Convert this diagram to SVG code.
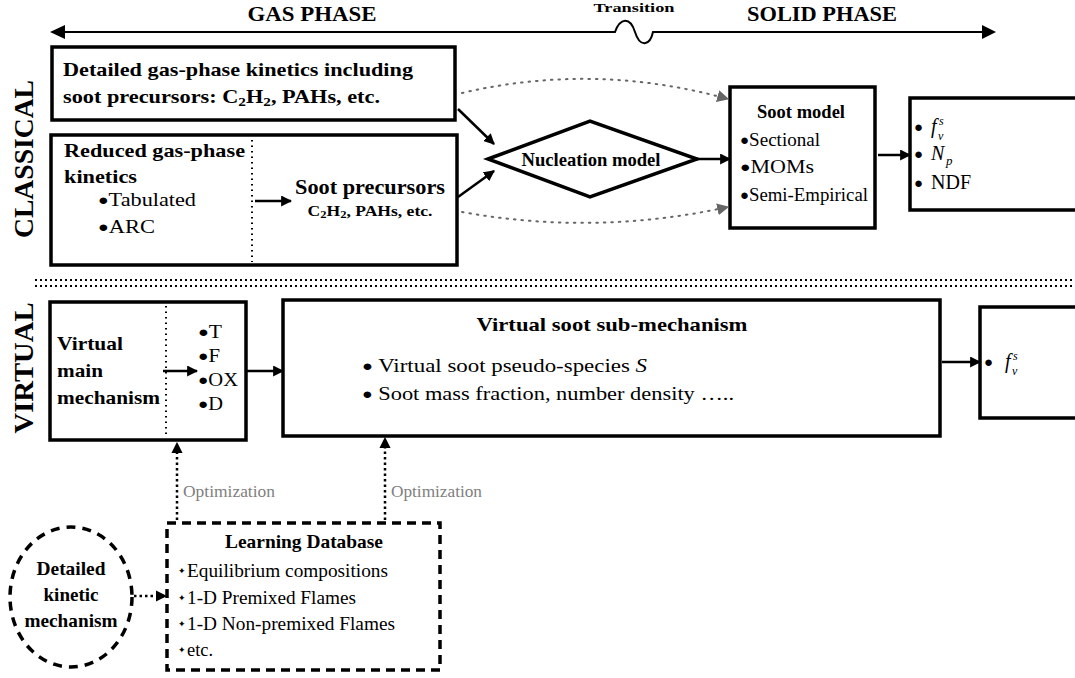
<svg xmlns="http://www.w3.org/2000/svg" width="1075" height="678" viewBox="0 0 1075 678">
<defs>
<marker id="ah" viewBox="0 0 10 10" refX="9" refY="5" markerWidth="4.4" markerHeight="4.4" orient="auto" markerUnits="strokeWidth"><path d="M0,0 L10,5 L0,10 z" fill="#000"/></marker>
<marker id="ahg" viewBox="0 0 10 10" refX="9" refY="5" markerWidth="6" markerHeight="6" orient="auto" markerUnits="strokeWidth"><path d="M0,0 L10,5 L0,10 z" fill="#666"/></marker>
<marker id="ahd" viewBox="0 0 10 10" refX="9" refY="5" markerWidth="4.5" markerHeight="4.5" orient="auto" markerUnits="strokeWidth"><path d="M0,0 L10,5 L0,10 z" fill="#000"/></marker>
</defs>
<style>
text{font-family:"Liberation Serif","Times New Roman",serif;fill:#000}
.b{font-weight:bold}
.bl{font-size:15px}
.box{fill:#fff;stroke:#000;stroke-width:3.5}
.dash{fill:#fff;stroke:#000;stroke-width:3.5;stroke-dasharray:9 6}
.vdot{stroke:#000;stroke-width:2;stroke-dasharray:1.5 4;fill:none}
.sep{stroke:#000;stroke-width:2;stroke-dasharray:2 3;fill:none}
.arr{stroke:#000;stroke-width:2.5;fill:none;marker-end:url(#ah)}
.garr{stroke:#666;stroke-width:2;stroke-dasharray:1.5 6;stroke-linecap:round;fill:none;marker-end:url(#ahg)}
.darr{stroke:#000;stroke-width:2.5;stroke-dasharray:2.5 3;fill:none;marker-end:url(#ahd)}
.opt{fill:#808080;font-size:16px}
</style>

<g id="phase-axis">
<path d="M62,32 L615,32 C620,18 630,16 635,32 C640,48 650,46 653,32 L985,32" stroke="#000" stroke-width="2" fill="none"/>
<path d="M50,32 L65,25 L65,39 z" fill="#000"/>
<path d="M996,32 L982,25 L982,39 z" fill="#000"/>
<text class="b" x="312" y="21" font-size="21" text-anchor="middle" textLength="129" lengthAdjust="spacingAndGlyphs">GAS PHASE</text>
<text class="b" x="634" y="12" font-size="13" text-anchor="middle" textLength="81" lengthAdjust="spacingAndGlyphs">Transition</text>
<text class="b" x="822" y="21" font-size="21" text-anchor="middle" textLength="150" lengthAdjust="spacingAndGlyphs">SOLID PHASE</text>
</g>

<g id="label-classical"><text class="b" transform="translate(33,159) rotate(-90)" font-size="28" text-anchor="middle" textLength="158" lengthAdjust="spacingAndGlyphs">CLASSICAL</text></g>
<g id="label-virtual"><text class="b" transform="translate(33,368) rotate(-90)" font-size="28" text-anchor="middle" textLength="131" lengthAdjust="spacingAndGlyphs">VIRTUAL</text></g>

<g id="separator">
<line class="sep" x1="35" y1="280" x2="1075" y2="280"/>
<line class="sep" x1="35" y1="286" x2="1075" y2="286"/>
</g>

<g id="detailed-gas">
<rect class="box" x="52" y="47" width="403" height="73"/>
<text class="b" x="63" y="76" font-size="19" textLength="350" lengthAdjust="spacingAndGlyphs">Detailed gas-phase kinetics including</text>
<text class="b" x="63" y="103" font-size="19" textLength="317" lengthAdjust="spacingAndGlyphs">soot precursors: C<tspan font-size="13" dy="3">2</tspan><tspan dy="-3">H</tspan><tspan font-size="13" dy="3">2</tspan><tspan dy="-3">, PAHs, etc.</tspan></text>
</g>

<g id="reduced-gas">
<rect class="box" x="51" y="135" width="406" height="130"/>
<line class="vdot" x1="252" y1="140" x2="252" y2="262"/>
<text class="b" x="64" y="157" font-size="19" textLength="181" lengthAdjust="spacingAndGlyphs">Reduced gas-phase</text>
<text class="b" x="64" y="183" font-size="19" textLength="73" lengthAdjust="spacingAndGlyphs">kinetics</text>
<text x="98" y="206" font-size="19" textLength="98" lengthAdjust="spacingAndGlyphs"><tspan class="bl" dy="-1">●</tspan><tspan dy="1">Tabulated</tspan></text>
<text x="98" y="233" font-size="19" textLength="57" lengthAdjust="spacingAndGlyphs"><tspan class="bl" dy="-1">●</tspan><tspan dy="1">ARC</tspan></text>
<text class="b" x="370" y="194" font-size="20" text-anchor="middle" textLength="150" lengthAdjust="spacingAndGlyphs">Soot precursors</text>
<text class="b" x="370" y="216" font-size="14" text-anchor="middle" textLength="125" lengthAdjust="spacingAndGlyphs">C<tspan font-size="10" dy="2">2</tspan><tspan dy="-2">H</tspan><tspan font-size="10" dy="2">2</tspan><tspan dy="-2">, PAHs, etc.</tspan></text>
</g>

<g id="nucleation">
<polygon points="488,159 590,121 697,159 590,197" fill="#fff" stroke="#000" stroke-width="3.5"/>
<text class="b" x="591" y="166" font-size="19" text-anchor="middle" textLength="139" lengthAdjust="spacingAndGlyphs">Nucleation model</text>
</g>

<g id="soot-model">
<rect class="box" x="730" y="87" width="145" height="141"/>
<text class="b" x="801" y="118" font-size="19" text-anchor="middle" textLength="88" lengthAdjust="spacingAndGlyphs">Soot model</text>
<text x="740" y="146" font-size="19" textLength="80" lengthAdjust="spacingAndGlyphs"><tspan class="bl" dy="-1">●</tspan><tspan dy="1">Sectional</tspan></text>
<text x="740" y="173" font-size="19" textLength="74" lengthAdjust="spacingAndGlyphs"><tspan class="bl" dy="-1">●</tspan><tspan dy="1">MOMs</tspan></text>
<text x="740" y="201" font-size="19" textLength="128" lengthAdjust="spacingAndGlyphs"><tspan class="bl" dy="-1">●</tspan><tspan dy="1">Semi-Empirical</tspan></text>
</g>

<g id="output-classical">
<path d="M1078,98 L910,98 L910,210 L1078,210" class="box"/>
<text x="914" y="132" class="bl">●</text>
<text x="931" y="133" font-size="20" font-style="italic">f</text>
<text x="939" y="125" font-size="12" font-style="italic">s</text>
<text x="938" y="140" font-size="12" font-style="italic">v</text>
<text x="914" y="159" class="bl">●</text>
<text x="931" y="160" font-size="20" font-style="italic">N</text>
<text x="946" y="165" font-size="13" font-style="italic">p</text>
<text x="914" y="188" class="bl">●</text>
<text x="931" y="189" font-size="20">NDF</text>
</g>

<g id="virtual-main">
<rect class="box" x="50" y="302" width="196" height="138"/>
<line class="vdot" x1="166" y1="306" x2="166" y2="436"/>
<text class="b" x="57" y="350" font-size="19" textLength="66" lengthAdjust="spacingAndGlyphs">Virtual</text>
<text class="b" x="57" y="377" font-size="19" textLength="46" lengthAdjust="spacingAndGlyphs">main</text>
<text class="b" x="57" y="404" font-size="19" textLength="103" lengthAdjust="spacingAndGlyphs">mechanism</text>
<text x="198" y="338" font-size="18" textLength="24" lengthAdjust="spacingAndGlyphs"><tspan class="bl" dy="-1">●</tspan><tspan dy="1">T</tspan></text>
<text x="198" y="362" font-size="18" textLength="22" lengthAdjust="spacingAndGlyphs"><tspan class="bl" dy="-1">●</tspan><tspan dy="1">F</tspan></text>
<text x="198" y="386" font-size="18" textLength="40" lengthAdjust="spacingAndGlyphs"><tspan class="bl" dy="-1">●</tspan><tspan dy="1">OX</tspan></text>
<text x="198" y="410" font-size="18" textLength="25" lengthAdjust="spacingAndGlyphs"><tspan class="bl" dy="-1">●</tspan><tspan dy="1">D</tspan></text>
</g>

<g id="virtual-soot">
<rect class="box" x="283" y="300" width="657" height="136"/>
<text class="b" x="612" y="331" font-size="19" text-anchor="middle" textLength="271" lengthAdjust="spacingAndGlyphs">Virtual soot sub-mechanism</text>
<text x="362" y="372" font-size="19" textLength="285" lengthAdjust="spacingAndGlyphs"><tspan class="bl" dy="-1">●</tspan><tspan dy="1"> Virtual soot pseudo-species </tspan><tspan font-style="italic">S</tspan></text>
<text x="362" y="400" font-size="19" textLength="372" lengthAdjust="spacingAndGlyphs"><tspan class="bl" dy="-1">●</tspan><tspan dy="1"> Soot mass fraction, number density …..</tspan></text>
</g>

<g id="output-virtual">
<path d="M1078,307 L980,307 L980,418 L1078,418" class="box"/>
<text x="984" y="367" class="bl">●</text>
<text x="1005" y="368" font-size="20" font-style="italic">f</text>
<text x="1013" y="360" font-size="12" font-style="italic">s</text>
<text x="1012" y="375" font-size="12" font-style="italic">v</text>
</g>

<g id="learning-db">
<rect class="dash" x="167" y="523" width="273" height="147"/>
<text class="b" x="304" y="548" font-size="19" text-anchor="middle" textLength="158" lengthAdjust="spacingAndGlyphs">Learning Database</text>
<text x="178" y="574" font-size="9">✦</text><text x="187" y="577" font-size="19" textLength="201" lengthAdjust="spacingAndGlyphs">Equilibrium compositions</text>
<text x="178" y="601" font-size="9">✦</text><text x="187" y="604" font-size="19" textLength="169" lengthAdjust="spacingAndGlyphs">1-D Premixed Flames</text>
<text x="178" y="627" font-size="9">✦</text><text x="187" y="630" font-size="19" textLength="208" lengthAdjust="spacingAndGlyphs">1-D Non-premixed Flames</text>
<text x="178" y="653" font-size="9">✦</text><text x="187" y="656" font-size="19" textLength="26" lengthAdjust="spacingAndGlyphs">etc.</text>
</g>

<g id="detailed-kinetic">
<ellipse cx="71" cy="597" rx="61" ry="70" fill="#fff" stroke="#000" stroke-width="3.5" stroke-dasharray="9 7"/>
<text class="b" x="71" y="575" font-size="19" text-anchor="middle" textLength="69" lengthAdjust="spacingAndGlyphs">Detailed</text>
<text class="b" x="71" y="601" font-size="19" text-anchor="middle" textLength="55" lengthAdjust="spacingAndGlyphs">kinetic</text>
<text class="b" x="71" y="627" font-size="19" text-anchor="middle" textLength="93" lengthAdjust="spacingAndGlyphs">mechanism</text>
</g>

<g id="connectors">
<line class="arr" x1="458" y1="109" x2="494" y2="144"/>
<line class="arr" x1="458" y1="197" x2="494" y2="171"/>
<line class="arr" x1="255" y1="201" x2="291" y2="201"/>
<path class="garr" d="M462,93 Q595,62 728,99"/>
<path class="garr" d="M462,212 Q595,236 728,207"/>
<line class="arr" x1="697" y1="159" x2="730" y2="159"/>
<line class="arr" x1="878" y1="155" x2="910" y2="155"/>
<line class="arr" x1="163" y1="371" x2="197" y2="371"/>
<line class="arr" x1="246" y1="371" x2="283" y2="371"/>
<line class="arr" x1="942" y1="362" x2="980" y2="362"/>
<line class="darr" x1="177" y1="520" x2="177" y2="443"/>
<line class="darr" x1="385" y1="520" x2="385" y2="438"/>
<line class="darr" x1="134" y1="596" x2="166" y2="596"/>
<text class="opt" x="183" y="497" textLength="92" lengthAdjust="spacingAndGlyphs">Optimization</text>
<text class="opt" x="391" y="497" textLength="91" lengthAdjust="spacingAndGlyphs">Optimization</text>
</g>
</svg>
